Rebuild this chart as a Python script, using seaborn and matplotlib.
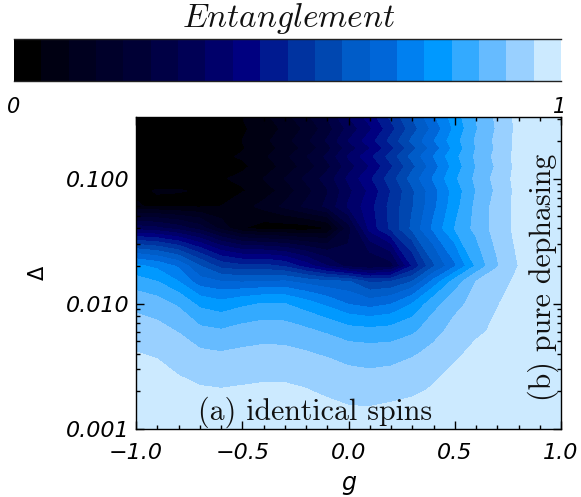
import numpy as np
import matplotlib
matplotlib.use("Agg")
import matplotlib.pyplot as plt
from matplotlib.colors import ListedColormap
from matplotlib.ticker import FuncFormatter, MultipleLocator
import seaborn as sns

# band colours of the colour bar, dark to light
band_colors = ["#000000", "#000012", "#00001f", "#00002a", "#000035", "#000045",
               "#000055", "#00006a", "#000080", "#001a90", "#0033a0", "#0047b0",
               "#005cc8", "#0066d8", "#0080f0", "#0099ff", "#33aaff", "#66bbff",
               "#99d0ff", "#cceaff"]

g_values = [-1.0, -0.9, -0.8, -0.7, -0.6, -0.5, -0.4, -0.3, -0.2, -0.1, 0.0,
            0.1, 0.2, 0.3, 0.4, 0.5, 0.6, 0.7, 0.8, 0.9, 1.0]
delta_values = [0.001, 0.002, 0.004, 0.006, 0.01, 0.015, 0.02, 0.04, 0.06, 0.08, 0.1,
                0.125, 0.15, 0.175, 0.2, 0.25, 0.31]

# entanglement x 20, one row per delta
row_0010 = [19.8, 19.75, 19.65, 19.55, 19.5, 19.55, 19.6, 19.6, 19.55, 19.5, 19.4, 19.45, 19.5, 19.55, 19.6, 19.7, 19.8, 19.85, 19.9, 19.95, 20]
row_0020 = [19.5, 19.4, 19.25, 19.1, 19.05, 19.1, 19.15, 19.15, 19.05, 18.85, 18.65, 18.55, 18.7, 18.85, 19.1, 19.3, 19.5, 19.65, 19.8, 19.9, 20]
row_0040 = [19.03, 18.9, 18.5, 18.17, 18.06, 18.18, 18.28, 18.25, 18.08, 17.85, 17.55, 17.45, 17.5, 17.85, 18.3, 18.85, 19.2, 19.4, 19.6, 19.85, 20]
row_0060 = [18.45, 18.3, 17.95, 17.25, 17.1, 17.35, 17.5, 17.45, 17.2, 16.85, 16.4, 16.3, 16.4, 16.8, 17.6, 18.4, 18.85, 19.15, 19.45, 19.8, 20]
row_0100 = [17.7, 17.4, 16.8, 15.7, 15.3, 15.75, 16.05, 16.0, 15.4, 14.7, 13.9, 13.5, 13.9, 15.0, 16.6, 17.6, 18.4, 18.95, 19.35, 19.75, 20]
row_0150 = [16.4, 16.0, 15.0, 13.4, 13.0, 12.9, 13.0, 13.1, 12.6, 12.2, 12.1, 10.8, 11.0, 12.0, 14.3, 16.4, 18.0, 18.6, 19.2, 19.7, 20]
row_0200 = [15.2, 14.7, 13.8, 12.0, 10.6, 10.2, 10.3, 9.8, 8.5, 7.0, 5.5, 5.0, 5.5, 9.0, 11.8, 13.8, 16.1, 17.9, 19.0, 19.7, 20]
row_0400 = [6.5, 6.2, 5.5, 4.5, 2.6, 1.0, 0.5, 0.4, 0.4, 0.9, 4.5, 8.3, 10.2, 12.2, 14.2, 16.0, 17.3, 18.4, 19.3, 19.7, 20]
row_0600 = [1.05, 0.9, 0.8, 0.8, 1.0, 1.6, 2.3, 3.2, 4.2, 5.2, 7.1, 8.6, 10.3, 11.9, 13.7, 15.6, 17.2, 18.4, 19.3, 19.7, 20]
row_0800 = [0.9, 1.03, 1.03, 0.95, 0.7, 0.9, 1.4, 2.4, 3.6, 4.9, 6.7, 8.2, 10.0, 11.8, 13.6, 15.4, 17.0, 18.2, 19.3, 19.8, 20]
row_1000 = [0.6, 0.5, 0.5, 0.6, 0.9, 1.2, 2.0, 3.0, 4.2, 5.4, 7.2, 8.8, 10.5, 12.4, 14.1, 15.8, 17.2, 18.35, 19.35, 19.8, 20]
row_1250 = [0.3, 0.3, 0.3, 0.4, 0.5, 0.8, 1.4, 2.3, 3.4, 4.7, 6.5, 8.0, 9.8, 11.7, 13.5, 15.4, 17.0, 18.15, 19.3, 19.8, 20]
row_1500 = [0.3, 0.3, 0.3, 0.5, 0.8, 1.1, 1.8, 2.7, 3.9, 5.2, 7.1, 8.7, 10.4, 12.3, 14.0, 15.7, 17.15, 18.3, 19.35, 19.8, 20]
row_1750 = [0.3, 0.3, 0.3, 0.4, 0.5, 0.9, 1.5, 2.3, 3.3, 4.6, 6.4, 7.9, 9.7, 11.6, 13.4, 15.3, 17.0, 18.15, 19.3, 19.8, 20]
row_2000 = [0.3, 0.3, 0.3, 0.4, 0.6, 1.0, 1.7, 2.6, 3.7, 5.1, 7.0, 8.5, 10.3, 12.2, 13.9, 15.6, 17.1, 18.25, 19.3, 19.8, 20]
row_2500 = [0.3, 0.3, 0.3, 0.4, 0.5, 0.85, 1.4, 2.2, 3.2, 4.5, 6.3, 7.8, 9.6, 11.5, 13.3, 15.2, 16.9, 18.1, 19.25, 19.8, 20]
row_3100 = [0.3, 0.3, 0.3, 0.4, 0.6, 1.0, 1.7, 2.6, 3.7, 5.0, 7.0, 8.4, 10.2, 12.0, 13.8, 15.5, 17.0, 18.2, 19.3, 19.8, 20]

entanglement = np.array([row_0010, row_0020, row_0040, row_0060, row_0100, row_0150, row_0200,
                         row_0400, row_0600, row_0800, row_1000, row_1250, row_1500,
                         row_1750, row_2000, row_2500, row_3100]) / 20.0

sns.set_theme(style="ticks")
plt.rcParams["mathtext.fontset"] = "cm"
plt.rcParams["font.family"] = ["DejaVu Sans"]

palette = sns.color_palette(band_colors)
cmap = ListedColormap(palette)
W, H = 581, 497

fig = plt.figure(figsize=(W / 100, H / 100), dpi=100)

# main panel
ax = fig.add_axes([136 / W, 1 - 429 / H, 425 / W, 312 / H])
levels = np.linspace(0, 1, 21)
cs = ax.contourf(g_values, delta_values, entanglement, levels=levels, cmap=cmap,
                 vmin=0, vmax=1, extend="both")
cs.set_edgecolor("face")
cs.set_linewidth(0.4)
ax.set_yscale("log")
ax.set_xlim(-1, 1)
ax.set_ylim(0.001, 0.31)
ax.xaxis.set_major_locator(MultipleLocator(0.5))
ax.xaxis.set_minor_locator(MultipleLocator(0.1))
ax.set_yticks([0.001, 0.01, 0.1])
ax.yaxis.set_major_formatter(FuncFormatter(lambda v, p: f"{v:.3f}"))
ax.xaxis.set_major_formatter(FuncFormatter(lambda v, p: f"{v:.1f}".replace("-", "\u2212")))
ax.tick_params(which="major", direction="in", top=True, right=True, length=6,
               width=1, color="black")
ax.tick_params(which="minor", direction="in", top=True, right=True, length=3,
               width=1, color="black")
ax.tick_params(axis="x", which="major", labelsize=16, labelcolor="black", pad=10)
ax.tick_params(axis="y", which="major", labelsize=16, labelcolor="black", pad=5)
for lab in ax.get_xticklabels() + ax.get_yticklabels():
    lab.set_fontstyle("italic")
for s in ax.spines.values():
    s.set_linewidth(1)
    s.set_color("black")
ax.set_axisbelow(False)

ax.set_xlabel("g", fontsize=17, fontstyle="italic", color="black", labelpad=6)
ax.set_ylabel("\u0394", fontsize=15, color="black", labelpad=13)

ax.text(198 / W, 1 - 420 / H, "(a) identical spins", transform=fig.transFigure,
        family="cmr10", fontsize=21.5, color="#111111", va="baseline", ha="left")
ax.text(543 / W, 1 - 277 / H, "(b) pure dephasing", transform=fig.transFigure,
        family="cmr10", fontsize=21.5, color="#111111", rotation=90, va="center", ha="center")

# colour bar strip on top
cax = fig.add_axes([14 / W, 1 - 81 / H, 547 / W, 42 / H])
sns.heatmap(np.arange(20).reshape(1, -1), cmap=cmap, cbar=False, ax=cax,
            xticklabels=False, yticklabels=False, vmin=-0.5, vmax=19.5)
cax.tick_params(length=0)
for s in ["top", "bottom"]:
    cax.spines[s].set_visible(True)
    cax.spines[s].set_linewidth(1)
    cax.spines[s].set_color("#222222")

fig.text(289 / W, 1 - 18 / H, r"$Entanglement$", fontsize=24, color="#111111",
         ha="center", va="center")
fig.text(14 / W, 1 - 107 / H, "0", fontsize=15, fontstyle="italic", color="black",
         ha="center", va="center")
fig.text(560 / W, 1 - 107 / H, "1", fontsize=15, fontstyle="italic", color="black",
         ha="center", va="center")

fig.savefig("out.png", dpi=100)
